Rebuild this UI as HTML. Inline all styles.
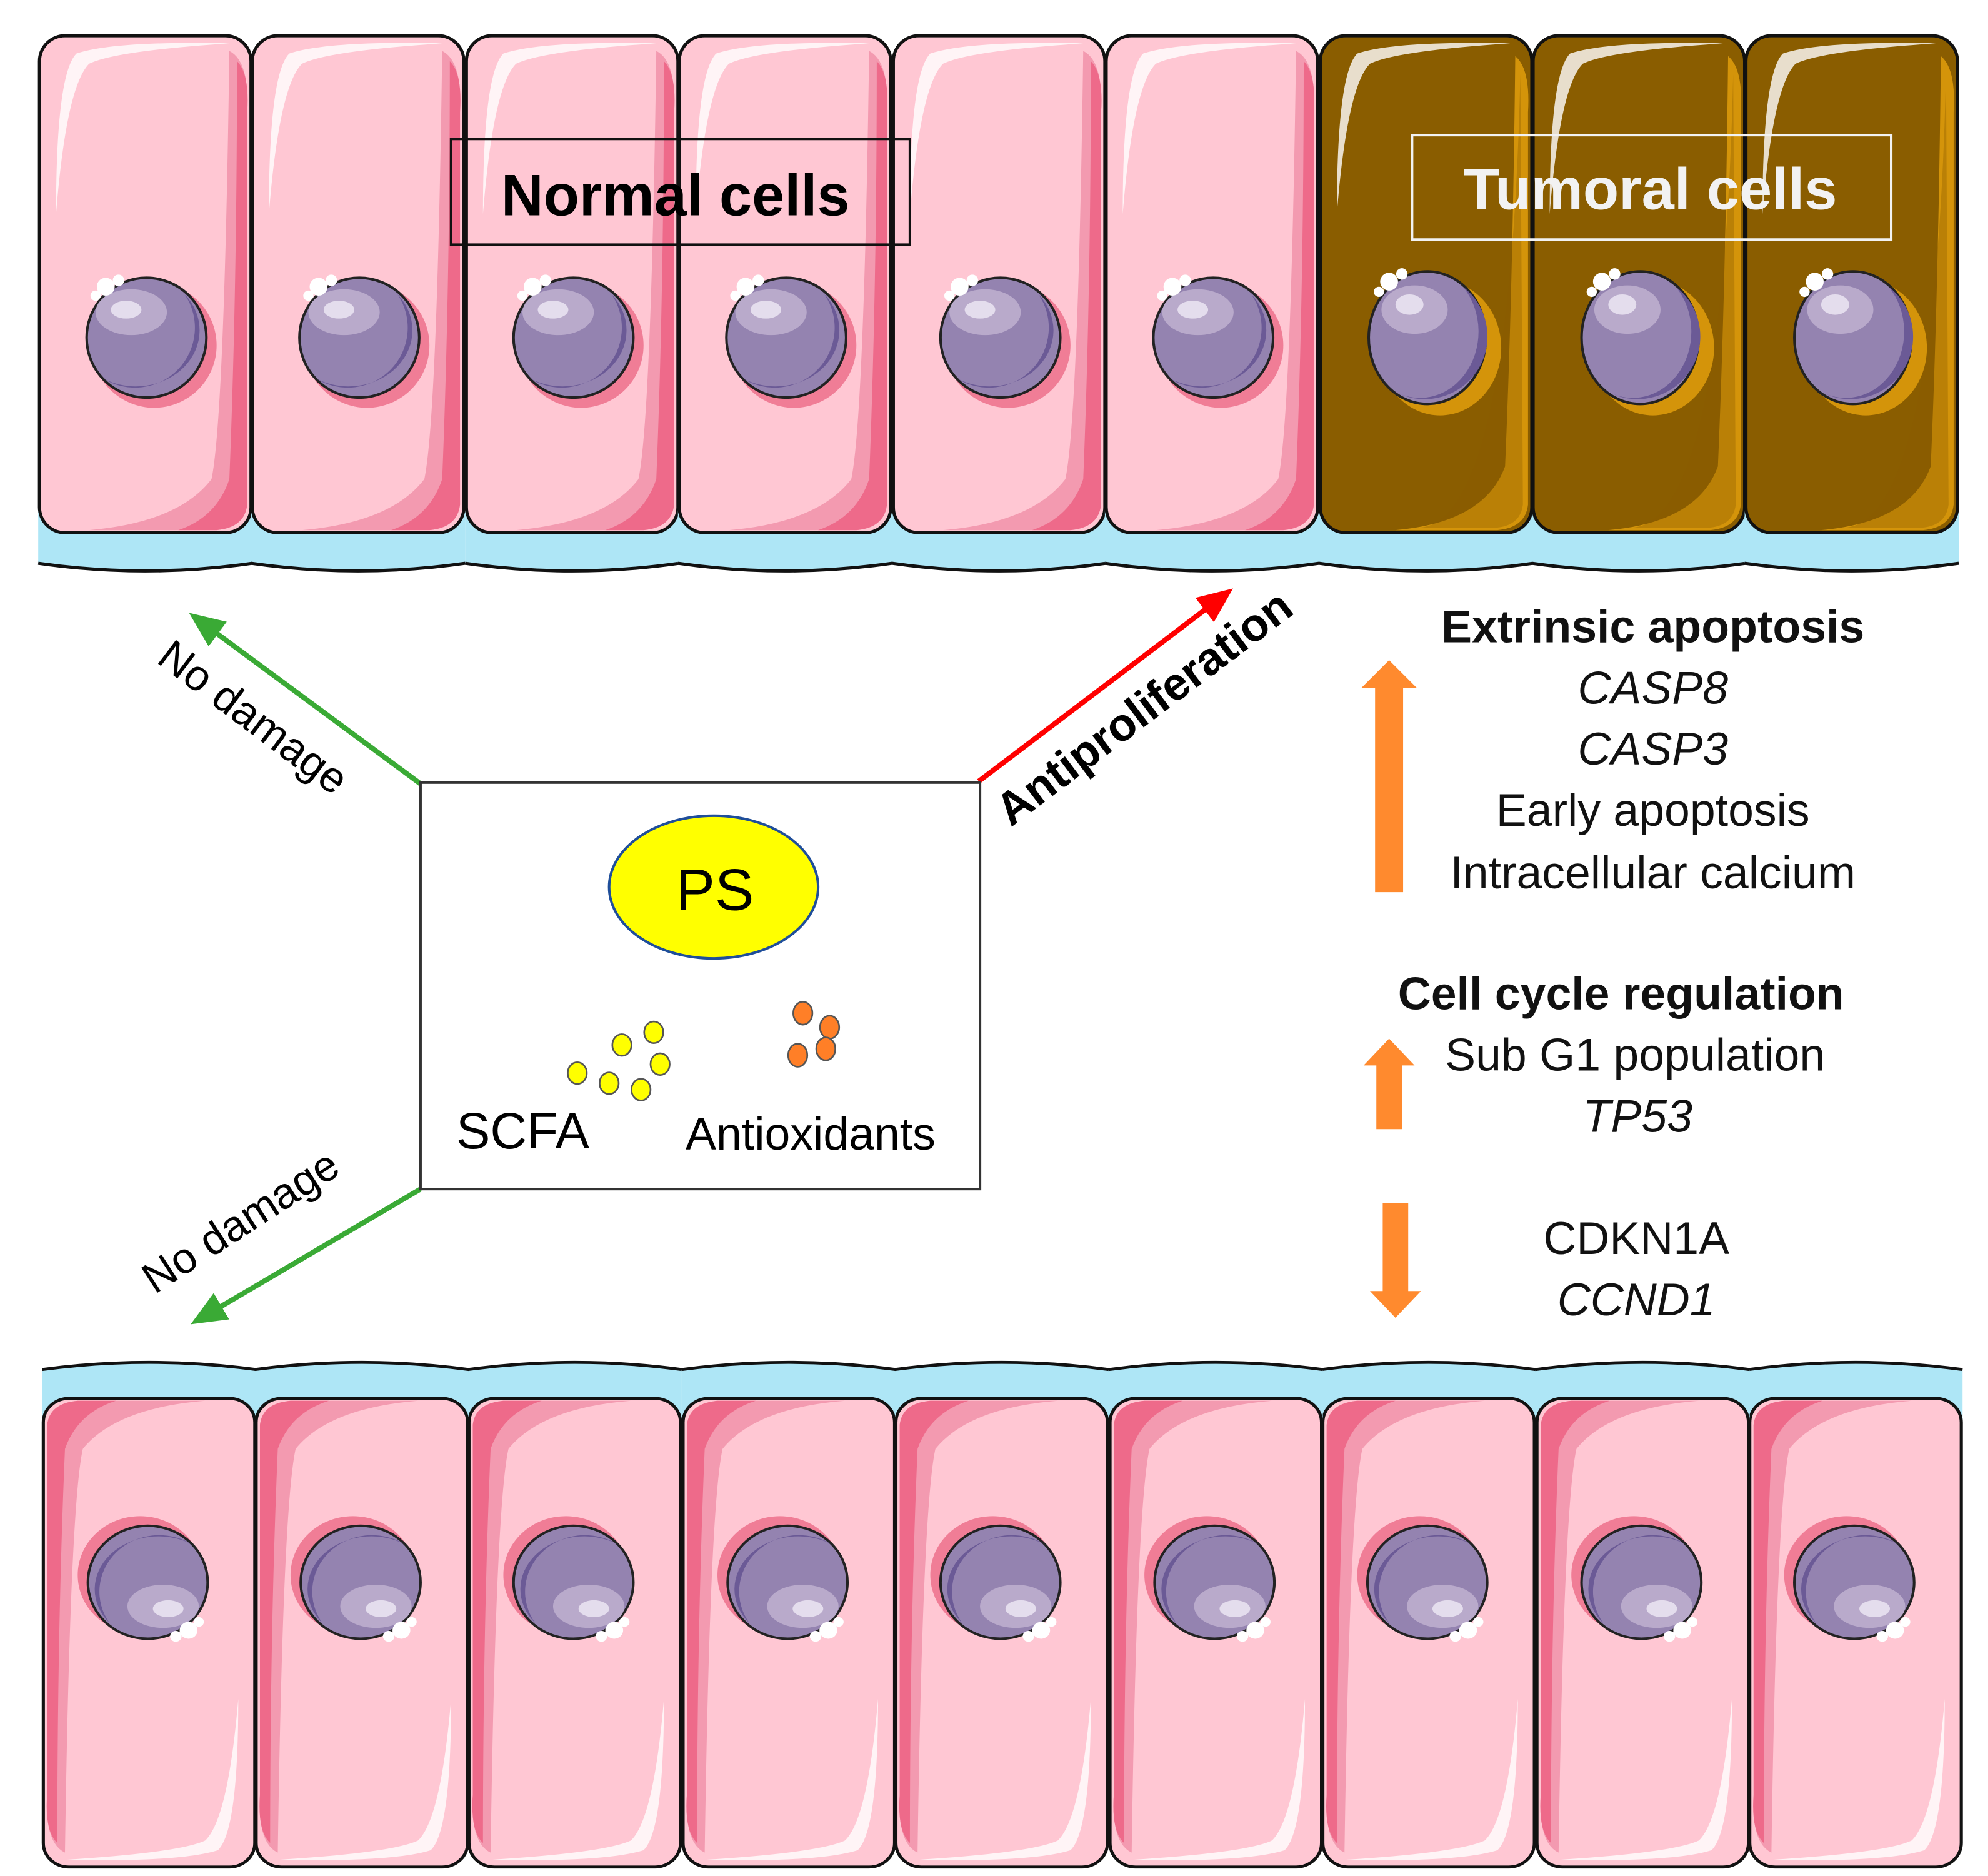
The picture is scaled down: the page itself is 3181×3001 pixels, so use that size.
<!DOCTYPE html>
<html><head><meta charset="utf-8"><style>
html,body{margin:0;padding:0;background:#fff;}
svg{display:block;}
text{font-family:"Liberation Sans",Arial,sans-serif;}
</style></head><body>
<svg width="3181" height="3001" viewBox="0 0 1560 1472" preserveAspectRatio="none" xmlns="http://www.w3.org/2000/svg">
<defs>
  <g id="nuc">
    <circle cx="6" cy="6" r="49" fill="#f07d96"/>
    <circle cx="0" cy="0" r="47" fill="#9483b0" stroke="#222" stroke-width="2"/>
    <path d="M30,-34 A47,47 0 0 1 -34,32 A50,44 0 0 0 30,-34 Z" fill="#6b5a96"/>
    <ellipse cx="-12" cy="-20" rx="28" ry="18" fill="#b9aacb"/>
    <ellipse cx="-16" cy="-22" rx="12" ry="7" fill="#e4dded"/>
    <circle cx="-32" cy="-40" r="7" fill="#fff"/>
    <circle cx="-22" cy="-45" r="4.5" fill="#fff"/>
    <circle cx="-40" cy="-33" r="4" fill="#fff"/>
  </g>
  <g id="nucT">
    <ellipse cx="10" cy="8" rx="48" ry="53" fill="#d4940a"/>
    <ellipse cx="0" cy="0" rx="46" ry="52" fill="#9483b0" stroke="#222" stroke-width="2"/>
    <path d="M28,-40 A46,52 0 0 1 -32,38 A48,48 0 0 0 28,-40 Z" fill="#6b5a96"/>
    <ellipse cx="-10" cy="-22" rx="26" ry="19" fill="#b9aacb"/>
    <ellipse cx="-14" cy="-26" rx="11" ry="8" fill="#e4dded"/>
    <circle cx="-30" cy="-44" r="7" fill="#fff"/>
    <circle cx="-20" cy="-50" r="4.5" fill="#fff"/>
    <circle cx="-38" cy="-36" r="4" fill="#fff"/>
  </g>
  <g id="cellN">
    <path d="M0,370 L0,414 Q84,426 168,414 L168,370 Z" fill="#aee6f6"/>
    <path d="M0,414 Q84,426 168,414" fill="none" stroke="#111" stroke-width="2.5"/>
    <rect x="1" y="0" width="166" height="390" rx="20" fill="#ffc7d3" stroke="#111" stroke-width="2.5"/>
    <path d="M150,12 Q166,20 164,60 L164,368 Q162,386 140,388 L40,388 Q110,382 136,348 Q146,300 150,12 Z" fill="#f39ab0"/>
    <path d="M156,20 Q166,30 164,60 L164,368 Q162,386 140,388 L110,388 Q140,378 150,348 Q156,200 156,20 Z" fill="#ee6a8a"/>
    <path d="M14,140 Q14,30 30,14 Q60,4 150,6 Q60,12 40,22 Q22,40 14,140 Z" fill="#fff" opacity="0.8"/>
    <use href="#nuc" x="85" y="237"/>
  </g>
  <g id="cellT">
    <path d="M0,370 L0,414 Q84,426 168,414 L168,370 Z" fill="#aee6f6"/>
    <path d="M0,414 Q84,426 168,414" fill="none" stroke="#111" stroke-width="2.5"/>
    <rect x="1" y="0" width="166" height="390" rx="20" fill="#8a5d00" stroke="#111" stroke-width="2.5"/>
    <path d="M154,16 Q166,26 164,60 L164,368 Q162,386 140,388 L60,388 Q130,382 146,338 Q152,200 154,16 Z" fill="#d4940a"/>
    <path d="M158,30 L160,368 Q158,384 140,386 L80,386 Q150,378 158,30 Z" fill="#8a5d00" opacity="0.35"/>
    <path d="M14,140 Q14,30 30,14 Q60,4 150,6 Q60,12 40,22 Q22,40 14,140 Z" fill="#fff" opacity="0.8"/>
    <use href="#nucT" x="85" y="237"/>
  </g>
  <marker id="ag" markerWidth="8" markerHeight="8" refX="4" refY="4" orient="auto" markerUnits="strokeWidth"><path d="M0,1 L7,4 L0,7 Z" fill="#3aaa35"/></marker>
  <marker id="ar" markerWidth="8" markerHeight="8" refX="4" refY="4" orient="auto" markerUnits="strokeWidth"><path d="M0,1 L7,4 L0,7 Z" fill="#ff0000"/></marker>
</defs>

<!-- top row -->
<use href="#cellN" x="30" y="28"/>
<use href="#cellN" x="197" y="28"/>
<use href="#cellN" x="365" y="28"/>
<use href="#cellN" x="532" y="28"/>
<use href="#cellN" x="700" y="28"/>
<use href="#cellN" x="867" y="28"/>
<use href="#cellT" x="1035" y="28"/>
<use href="#cellT" x="1202" y="28"/>
<use href="#cellT" x="1369" y="28"/>

<rect x="354" y="109" width="360" height="83" fill="none" stroke="#111" stroke-width="2"/>
<text x="530" y="169" font-size="46" font-weight="bold" text-anchor="middle" fill="#000">Normal cells</text>
<rect x="1108" y="106" width="376" height="82" fill="none" stroke="#f2f2f2" stroke-width="2"/>
<text x="1295" y="164" font-size="46" font-weight="bold" text-anchor="middle" fill="#f2f2f2">Tumoral cells</text>

<!-- bottom row -->
<g transform="translate(0,1465) scale(1,-0.943)"><g transform="translate(1570,0) scale(-1,1)">
<use href="#cellN" x="30" y="0"/>
<use href="#cellN" x="197" y="0"/>
<use href="#cellN" x="365" y="0"/>
<use href="#cellN" x="532" y="0"/>
<use href="#cellN" x="700" y="0"/>
<use href="#cellN" x="867" y="0"/>
<use href="#cellN" x="1035" y="0"/>
<use href="#cellN" x="1202" y="0"/>
<use href="#cellN" x="1369" y="0"/>
</g></g>

<!-- arrows -->
<line x1="330" y1="615" x2="158" y2="488" stroke="#3aaa35" stroke-width="4" marker-end="url(#ag)"/>
<line x1="330" y1="933" x2="160" y2="1033" stroke="#3aaa35" stroke-width="4" marker-end="url(#ag)"/>
<line x1="768" y1="613" x2="958" y2="469" stroke="#ff0000" stroke-width="4" marker-end="url(#ar)"/>

<text transform="translate(192,572) rotate(37)" font-size="34" text-anchor="middle">No damage</text>
<text transform="translate(195,968) rotate(-33)" font-size="34" text-anchor="middle">No damage</text>
<text transform="translate(905,565) rotate(-37)" font-size="36" font-weight="bold" text-anchor="middle">Antiproliferation</text>

<!-- center box -->
<rect x="330" y="614" width="439" height="319" fill="#fff" stroke="#333" stroke-width="2"/>
<ellipse cx="560" cy="696" rx="82" ry="56" fill="#ffff00" stroke="#1f4e9a" stroke-width="2"/>
<text x="561" y="714" font-size="46" text-anchor="middle">PS</text>
<g fill="#ffff00" stroke="#555" stroke-width="1.3">
<ellipse cx="453" cy="842" rx="7.5" ry="8.5"/><ellipse cx="478" cy="850" rx="7.5" ry="8.5"/>
<ellipse cx="503" cy="855" rx="7.5" ry="8.5"/><ellipse cx="488" cy="820" rx="7.5" ry="8.5"/>
<ellipse cx="513" cy="810" rx="7.5" ry="8.5"/><ellipse cx="518" cy="835" rx="7.5" ry="8.5"/>
</g>
<g fill="#ff7f27" stroke="#555" stroke-width="1.3">
<ellipse cx="630" cy="795" rx="7.5" ry="9"/><ellipse cx="651" cy="806" rx="7.5" ry="9"/>
<ellipse cx="648" cy="823" rx="7.5" ry="9"/><ellipse cx="626" cy="828" rx="7.5" ry="9"/>
</g>
<text x="358" y="901" font-size="40">SCFA</text>
<text x="538" y="902" font-size="36">Antioxidants</text>

<!-- right side text -->
<g fill="#ff8a2e">
<path d="M1079,700 L1101,700 L1101,540 L1112,540 L1090,518 L1068,540 L1079,540 Z"/>
<path d="M1080,886 L1100,886 L1100,836 L1110,836 L1090,815 L1070,836 L1080,836 Z"/>
<path d="M1085,944 L1105,944 L1105,1013 L1115,1013 L1095,1034 L1075,1013 L1085,1013 Z"/>
</g>
<g font-size="36" text-anchor="middle" fill="#111">
<text x="1297" y="504" font-weight="bold">Extrinsic apoptosis</text>
<text x="1297" y="552" font-style="italic">CASP8</text>
<text x="1297" y="600" font-style="italic">CASP3</text>
<text x="1297" y="648">Early apoptosis</text>
<text x="1297" y="697">Intracellular calcium</text>
<text x="1272" y="792" font-weight="bold">Cell cycle regulation</text>
<text x="1283" y="840">Sub G1 population</text>
<text x="1285" y="888" font-style="italic">TP53</text>
<text x="1284" y="984">CDKN1A</text>
<text x="1284" y="1032" font-style="italic">CCND1</text>
</g>
</svg>
</body></html>
